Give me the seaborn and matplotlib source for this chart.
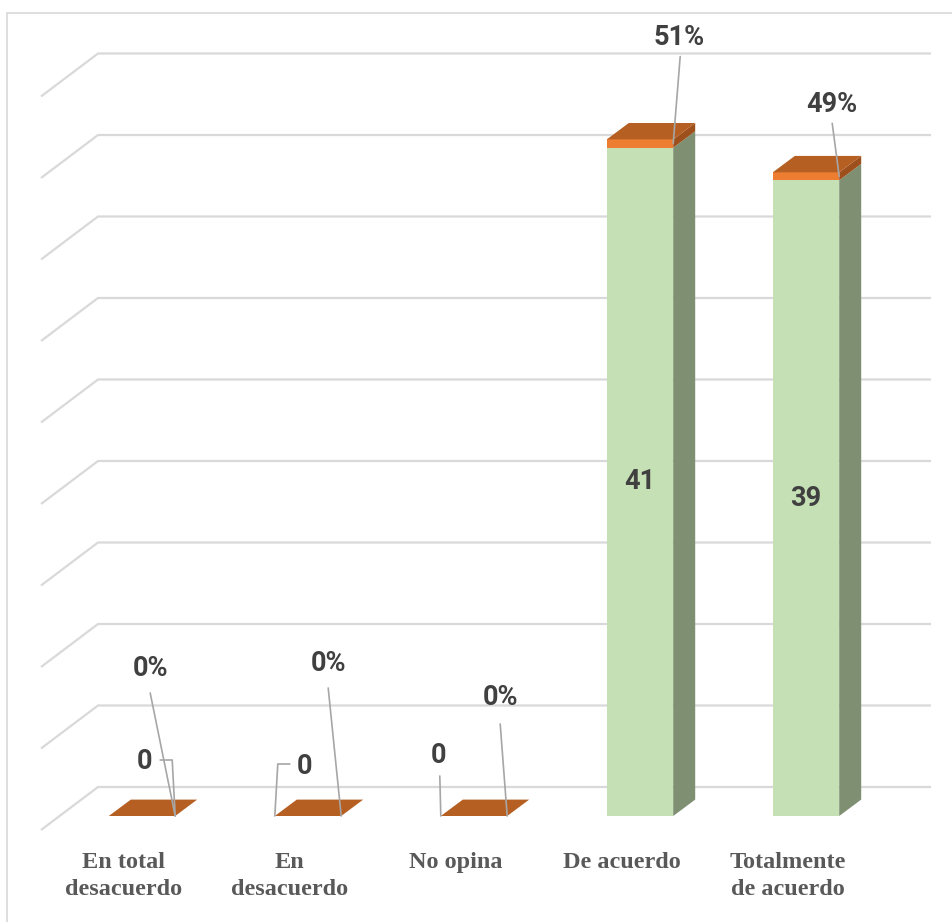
import matplotlib
matplotlib.use("Agg")
import matplotlib.pyplot as plt
from matplotlib.lines import Line2D
import seaborn as sns

# data
categories = ["En total\ndesacuerdo", "En\ndesacuerdo", "No opina", "De acuerdo", "Totalmente\nde acuerdo"]
counts = [0, 0, 0, 41, 39]
shares = [0.0, 0.0, 0.0, 0.51, 0.49]
count_labels = ["0", "0", "0", "41", "39"]
share_labels = ["0%", "0%", "0%", "51%", "49%"]
grid_values = list(range(0, 50, 5))

totals = [c + s for c, s in zip(counts, shares)]

# colours
GREEN = "#C5E0B4"
GREEN_SIDE = "#7F8F72"
ORANGE = "#ED7D31"
ORANGE_TOP = "#B55F22"
ORANGE_SIDE = "#9E501C"
GRID = "#D9D9D9"
LEADER = "#A6A6A6"
TXT = "#404040"

# pixel geometry of the figure
W, H = 953, 922
X0, Y0 = 142, 816      # pixel of category 0 / value 0
SX, SY = 166, 16.3     # pixels per category / per unit
BOTTOM = 845           # pixel row of axes bottom

sns.set_theme(style="white")
plt.rcParams["font.family"] = ["Roboto", "DejaVu Sans"]

fig = plt.figure(figsize=(W / 100, H / 100), dpi=100)
ax = fig.add_axes([0, (H - BOTTOM) / H, 1, BOTTOM / H])

# back wall gridlines (3D look)
xd, xc, xr = (41 - X0) / SX, (98 - X0) / SX, (931 - X0) / SX
for v in grid_values:
    yb = v + 29 / SY
    ax.plot([xd, xc, xr], [yb - 43 / SY, yb, yb], color=GRID, lw=1.6, zorder=0,
            solid_capstyle="butt")

# front faces: stack the orange share on top of the green count
sns.barplot(x=categories, y=totals, color=ORANGE, width=0.4, saturation=1,
            errorbar=None, linewidth=0, ax=ax, zorder=2)
sns.barplot(x=categories, y=counts, color=GREEN, width=0.4, saturation=1,
            errorbar=None, linewidth=0, ax=ax, zorder=2)

# side and top faces
DX, DY = 22 / SX, 16.4 / SY
for i, (c, t) in enumerate(zip(counts, totals)):
    x0, x1 = i - 0.2, i + 0.2
    if c > 0:
        ax.fill([x1, x1 + DX, x1 + DX, x1], [0, DY, c + DY, c], color=GREEN_SIDE, lw=0, zorder=3)
    if t > c:
        ax.fill([x1, x1 + DX, x1 + DX, x1], [c, c + DY, t + DY, t], color=ORANGE_SIDE, lw=0, zorder=3)
    ax.fill([x0, x1, x1 + DX, x0 + DX], [t, t, t + DY, t + DY], color=ORANGE_TOP, lw=0, zorder=3)

label_font = dict(fontsize=19.5, fontweight="bold", color=TXT, ha="center", va="center", zorder=5)

# count labels
zero_layout = {
    0: (0.2, (-31, 55), [(-15, 56), (-3, 56), (0, 0)]),
    1: (-0.2, (30, 50), [(15, 52), (3, 52), (0, 0)]),
    2: (-0.2, (-2, 61), [(-1, 40), (0, 0)]),
}
for i, (c, lab) in enumerate(zip(counts, count_labels)):
    if c > 0:
        ax.text(i, c / 2, lab, **label_font)
    else:
        side, (tx, ty), pts = zero_layout[i]
        ax_ = i + side
        ax.text(ax_ + tx / SX, c + ty / SY, lab, **label_font)
        ax.plot([ax_ + px / SX for px, py in pts], [c + py / SY for px, py in pts],
                color=LEADER, lw=1.2, zorder=4)

# share labels with leader lines
share_layout = [(-25, 148, -25, 123), (-13, 153, -13, 128), (-7, 119, -7, 92),
                (6, 106, 7, 87), (-7, 72, -7, 53)]
for i, (c, s, lab) in enumerate(zip(counts, shares, share_labels)):
    axx, axy = i + 0.2, c + s / 2
    tx, ty, lx, ly = share_layout[i]
    ax.text(axx + tx / SX, axy + ty / SY, lab, **label_font)
    ax.plot([axx + lx / SX, axx], [axy + ly / SY, axy], color=LEADER, lw=1.2, zorder=4)

ax.set_xlim(-X0 / SX, (W - X0) / SX)
ax.set_ylim((Y0 - BOTTOM) / SY, Y0 / SY)
ax.set_xticks([i - 0.11 for i in range(len(categories))])
ax.set_xticklabels(categories, fontfamily="Liberation Serif", fontweight="bold",
                   fontsize=17.5, color="#595959", linespacing=1.4)
ax.tick_params(axis="x", length=0, pad=5)
ax.set_yticks([])
ax.set_xlabel("")
ax.set_ylabel("")
for sp in ax.spines.values():
    sp.set_visible(False)

# chart area border (only left and top are visible)
fig.add_artist(Line2D([7 / W, 1], [1 - 13 / H, 1 - 13 / H], color=GRID, lw=1.2))
fig.add_artist(Line2D([7 / W, 7 / W], [0, 1 - 13 / H], color=GRID, lw=1.2))

fig.savefig("out.png", dpi=100)
